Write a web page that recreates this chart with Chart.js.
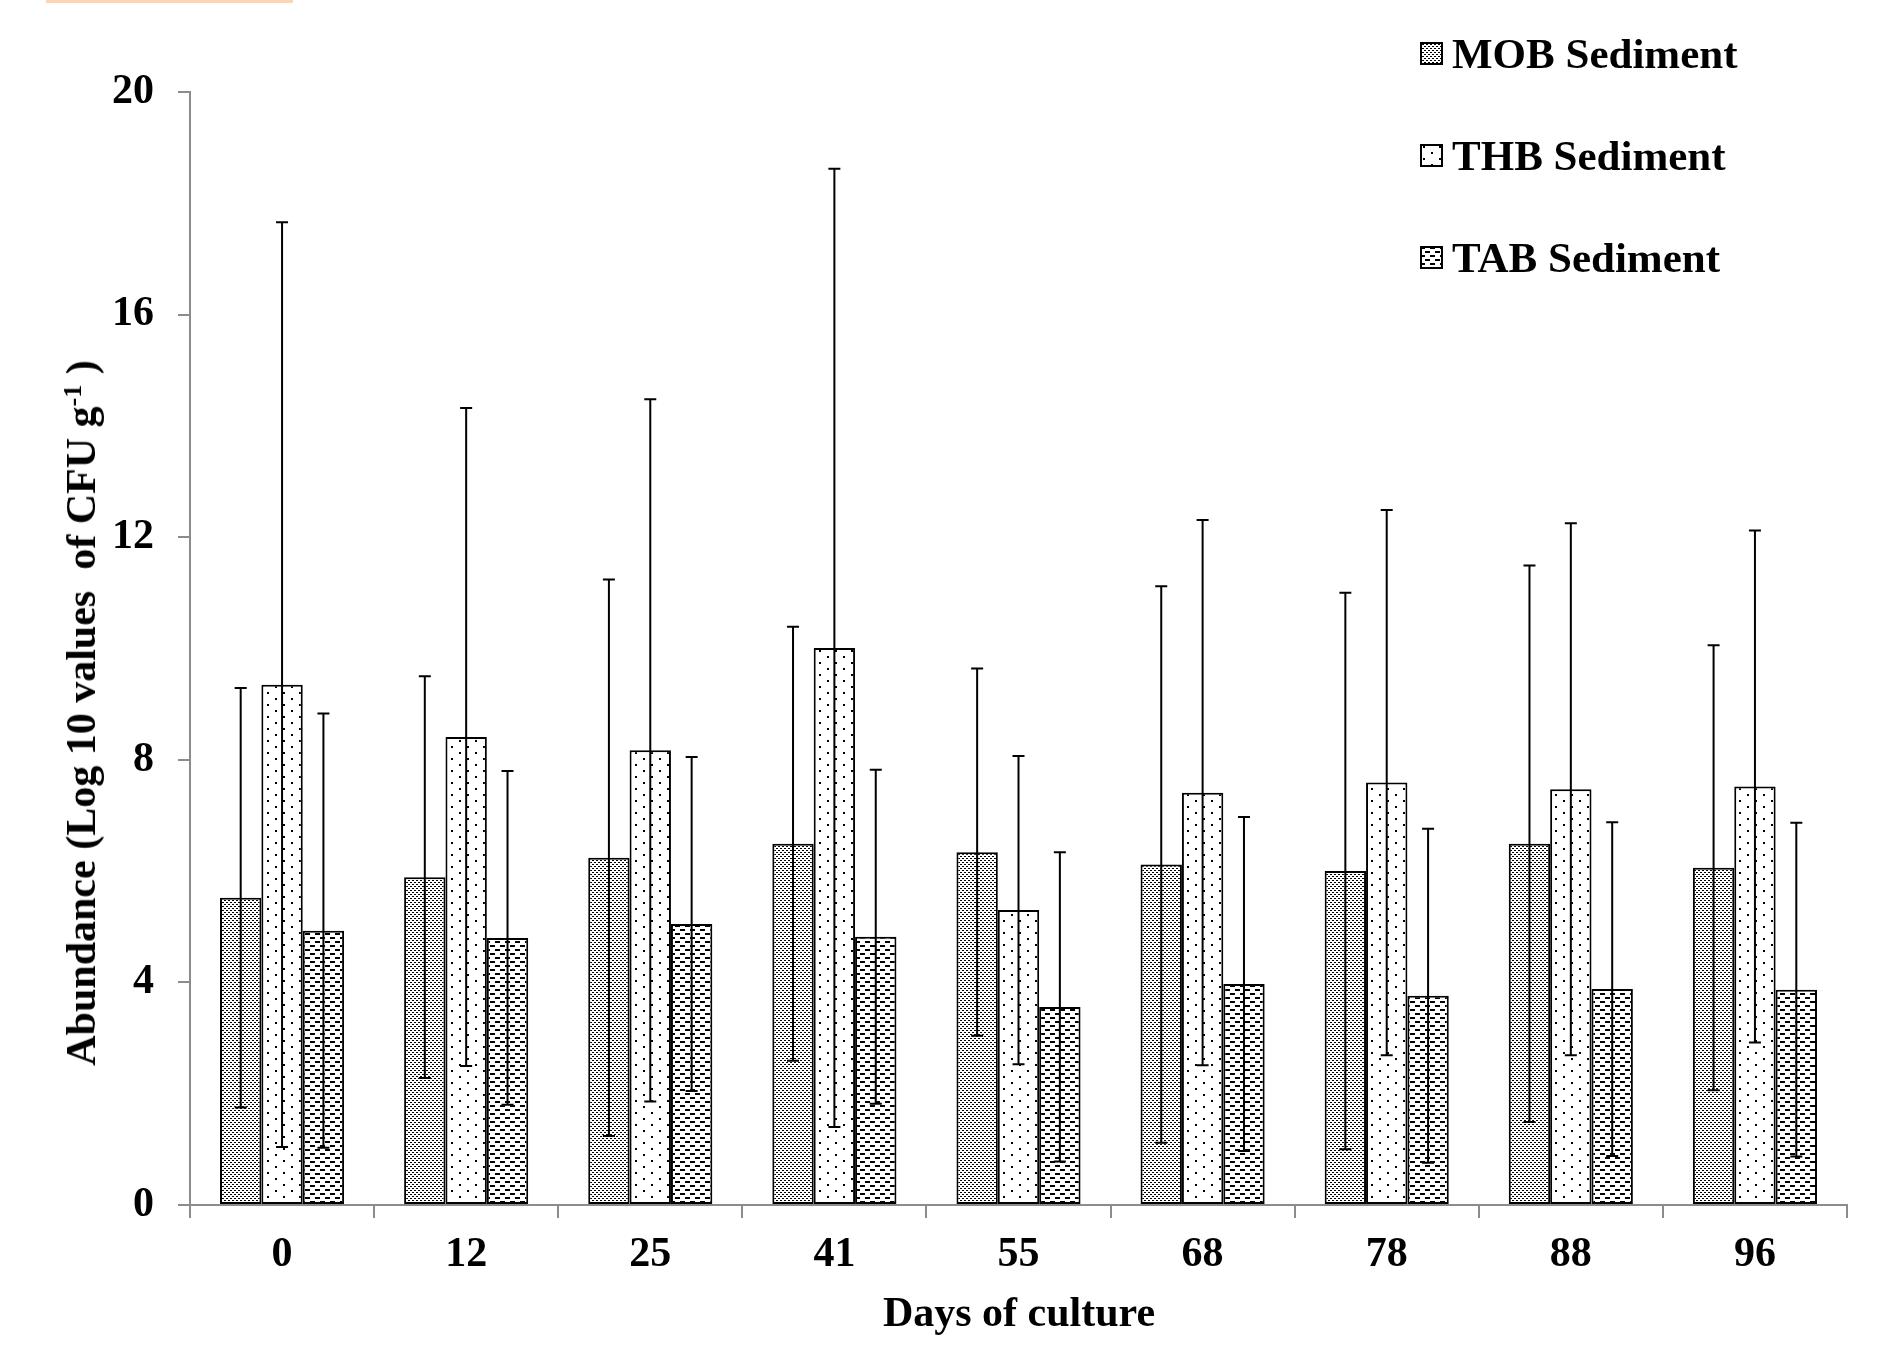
<!DOCTYPE html>
<html>
<head>
<meta charset="utf-8">
<script src="https://cdn.jsdelivr.net/npm/chart.js@4.4.1/dist/chart.umd.min.js"></script>
<style>
  body { margin: 0; background: #fff; }
  #wrap { position: relative; width: 1892px; height: 1348px; font-family: "Liberation Serif", "Times New Roman", serif; font-weight: bold; color: #000; }
  #chart { position: absolute; left: 0; top: 0; }
  .topbar { position: absolute; left: 46px; top: 0; width: 247px; height: 3px; background: #fcd5b4; }
  .ytitle { position: absolute; left: 81px; top: 713px; transform: translate(-50%, -50%) rotate(-90deg); white-space: nowrap; font-size: 42px; }
  .ytitle sup { font-size: 26px; vertical-align: 14px; line-height: 0; }
  .xtitle { position: absolute; left: 1019px; top: 1312px; transform: translate(-50%, -50%); white-space: nowrap; font-size: 42px; }
  .legend-row { position: absolute; left: 1420px; height: 44px; display: flex; align-items: center; font-size: 43px; white-space: nowrap; }
  .legend-row canvas { width: 23px; height: 23px; margin-right: 9px; }
</style>
</head>
<body>
<div id="wrap">
  <div class="topbar"></div>
  <canvas id="chart" width="1892" height="1348"></canvas>
  <div class="ytitle">Abundance (Log 10 values &nbsp;of CFU g<sup>-1</sup> )</div>
  <div class="xtitle">Days of culture</div>
  <div id="legend"></div>
</div>
<script>
const days = ['0', '12', '25', '41', '55', '68', '78', '88', '96'];
const seriesNames = ['MOB Sediment', 'THB Sediment', 'TAB Sediment'];

const mobMean = [5.52, 5.89, 6.24, 6.49, 6.34, 6.12, 6.00, 6.49, 6.06];
const mobSd   = [3.77, 3.61, 5.00, 3.90, 3.30, 5.00, 5.00, 5.00, 4.00];
const thbMean = [9.35, 8.41, 8.17, 10.01, 5.30, 7.41, 7.59, 7.47, 7.52];
const thbSd   = [8.31, 5.91, 6.31, 8.61, 2.77, 4.90, 4.90, 4.78, 4.60];
const tabMean = [4.93, 4.80, 5.05, 4.82, 3.56, 3.97, 3.76, 3.88, 3.87];
const tabSd   = [3.90, 3.00, 3.00, 3.00, 2.78, 3.00, 3.00, 3.00, 3.00];

const yTicks = [0, 4, 8, 12, 16, 20];

// hatch fills like the excel patterns
function makePattern(kind) {
    const c = document.createElement('canvas');
    const g = c.getContext('2d');
    if (kind === 'mob') {
        c.width = 4; c.height = 4;
        g.fillStyle = '#fff'; g.fillRect(0, 0, 4, 4);
        g.fillStyle = '#000';
        g.fillRect(0, 0, 2, 1);
        g.fillRect(2, 2, 2, 1);
    } else if (kind === 'thb') {
        c.width = 16; c.height = 12;
        g.fillStyle = '#fff'; g.fillRect(0, 0, 16, 12);
        g.fillStyle = '#000';
        g.fillRect(3, 2, 2, 2);
        g.fillRect(11, 8, 2, 2);
    } else {
        c.width = 10; c.height = 8;
        g.fillStyle = '#fff'; g.fillRect(0, 0, 10, 8);
        g.fillStyle = '#000';
        g.fillRect(0, 1, 5, 2);
        g.fillRect(5, 5, 5, 2);
    }
    return document.createElement('canvas').getContext('2d').createPattern(c, 'repeat');
}

const kinds = ['mob', 'thb', 'tab'];
const patterns = kinds.map(makePattern);

// legend on the right
const legendTops = [31, 133, 235];
const legendEl = document.getElementById('legend');
seriesNames.forEach((name, i) => {
    const row = document.createElement('div');
    row.className = 'legend-row';
    row.style.top = legendTops[i] + 'px';
    const sw = document.createElement('canvas');
    sw.width = 23; sw.height = 23;
    const sg = sw.getContext('2d');
    sg.fillStyle = patterns[i];
    sg.fillRect(0, 0, 23, 23);
    sg.strokeStyle = '#000';
    sg.lineWidth = 2;
    sg.strokeRect(1, 1, 21, 21);
    row.appendChild(sw);
    row.appendChild(document.createTextNode(name));
    legendEl.appendChild(row);
});

const sds = [mobSd, thbSd, tabSd];

const errorBars = {
    id: 'errorBars',
    afterDatasetsDraw(chart) {
        const ctx = chart.ctx;
        const yScale = chart.scales.y;
        ctx.save();
        ctx.strokeStyle = '#000';
        ctx.lineWidth = 2;
        chart.data.datasets.forEach((ds, i) => {
            const meta = chart.getDatasetMeta(i);
            meta.data.forEach((bar, j) => {
                const v = ds.data[j];
                const sd = sds[i][j];
                const yTop = yScale.getPixelForValue(v + sd);
                const yBot = yScale.getPixelForValue(v - sd);
                ctx.beginPath();
                ctx.moveTo(bar.x, yTop);
                ctx.lineTo(bar.x, yBot);
                ctx.moveTo(bar.x - 6, yTop);
                ctx.lineTo(bar.x + 6, yTop);
                ctx.moveTo(bar.x - 6, yBot);
                ctx.lineTo(bar.x + 6, yBot);
                ctx.stroke();
            });
        });
        ctx.restore();
    }
};

const tickFont = { family: '"Liberation Serif", "Times New Roman", serif', size: 42, weight: 'bold' };

new Chart(document.getElementById('chart'), {
    type: 'bar',
    data: {
        labels: days,
        datasets: [mobMean, thbMean, tabMean].map((d, i) => ({
            label: seriesNames[i],
            data: d,
            backgroundColor: patterns[i],
            borderColor: '#000',
            borderWidth: 2,
            borderSkipped: false,
            categoryPercentage: 0.674,
            barPercentage: 1.0
        }))
    },
    options: {
        responsive: false,
        devicePixelRatio: 1,
        animation: false,
        layout: { padding: { left: 0, top: 92, right: 45, bottom: 0 } },
        plugins: {
            legend: { display: false },
            tooltip: { enabled: false }
        },
        scales: {
            x: {
                grid: { offset: true, drawOnChartArea: false, tickLength: 13, color: '#8c8c8c', lineWidth: 2 },
                border: { color: '#8c8c8c', width: 2 },
                ticks: { color: '#000', font: tickFont, padding: 12, maxRotation: 0 },
                afterFit: s => { s.height = 143; }
            },
            y: {
                min: 0,
                max: 20,
                afterBuildTicks: s => { s.ticks = yTicks.map(v => ({ value: v })); },
                grid: { drawOnChartArea: false, tickLength: 12, color: '#8c8c8c', lineWidth: 2 },
                border: { color: '#8c8c8c', width: 2 },
                ticks: { color: '#000', font: tickFont, padding: 24 },
                afterFit: s => { s.width = 190; }
            }
        }
    },
    plugins: [errorBars]
});
</script>
</body>
</html>
